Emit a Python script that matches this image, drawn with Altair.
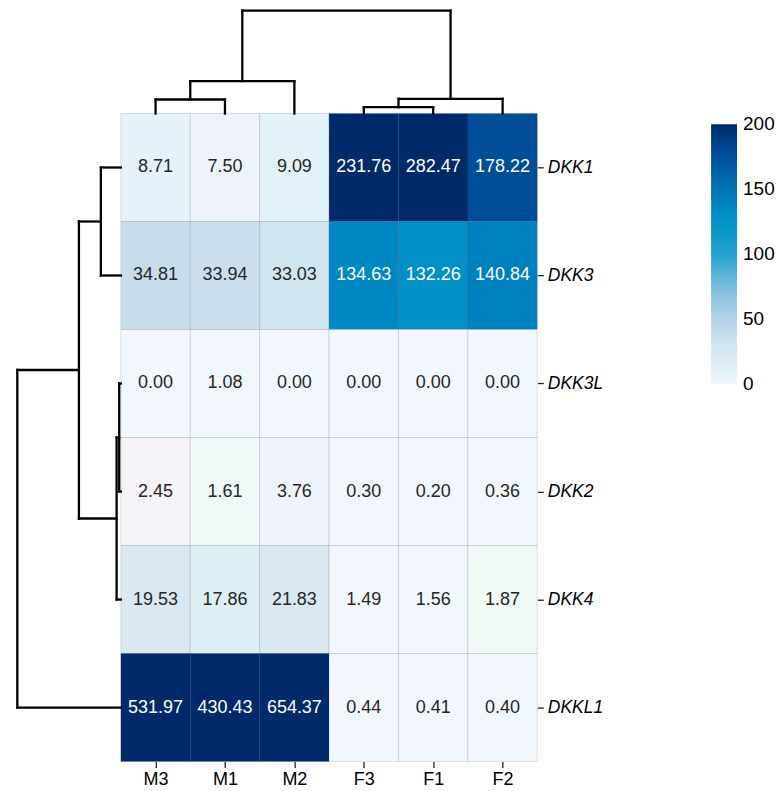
import altair as alt
import pandas as pd

# ---- data ----
cols = ["M3", "M1", "M2", "F3", "F1", "F2"]
rows = ["DKK1", "DKK3", "DKK3L", "DKK2", "DKK4", "DKKL1"]
values = [
    [8.71, 7.50, 9.09, 231.76, 282.47, 178.22],
    [34.81, 33.94, 33.03, 134.63, 132.26, 140.84],
    [0.00, 1.08, 0.00, 0.00, 0.00, 0.00],
    [2.45, 1.61, 3.76, 0.30, 0.20, 0.36],
    [19.53, 17.86, 21.83, 1.49, 1.56, 1.87],
    [531.97, 430.43, 654.37, 0.44, 0.41, 0.40],
]

# dendrogram linkages (relative merge heights, root = 1)
col_links = [("M3", "M1", 0.136), ("#0", "M2", 0.314), ("F3", "F1", 0.061),
             ("#2", "F2", 0.143), ("#1", "#3", 1.0)]
row_links = [("DKK1", "DKK3", 0.193), ("DKK3L", "DKK2", 0.016), ("#1", "DKK4", 0.041),
             ("#0", "#2", 0.405), ("#3", "DKKL1", 1.0)]

# colour map stops
c_domain = [0, 1.58, 1.61, 1.87, 2.45, 3.76, 7.5, 8.71, 9.09, 17.86, 19.53, 21.83,
            33.03, 33.94, 34.81, 50, 75, 100, 125, 132.26, 134.63, 140.84, 150, 178.22, 200]
c_range = ["#f1f7fd", "#f1f7fd", "#f0f9f8", "#f1f9f7", "#f5f2f8", "#eff3fb", "#edf2fb",
           "#e5f2f9", "#e3f1f8", "#dbeff5", "#d9e8f2", "#dae8f2", "#cfe5ef", "#cadeed",
           "#c8ddec", "#b5d3e9", "#7dbcdc", "#25a1cf", "#0092c6", "#008fc7", "#0088c5",
           "#0081bf", "#0074b5", "#004d98", "#002a6a"]
# colour-bar tick positions (ends nudged inward so labels centre on them)
legend_ticks = [0.001, 50, 100, 150, 199.999]

# ---- layout constants ----
TOP_LEN = 0.9525   # dendrogram depth in row units
LEFT_LEN = 1.492   # dendrogram depth in column units
X_DOM = [-1.626, 6]
Y_DOM = [-0.972, 6]
FONT = "Liberation Sans"

cells = pd.DataFrame([
    {"xi": j, "xj": j + 1, "yi": i, "yj": i + 1, "xc": j + 0.5, "yc": i + 0.5,
     "value": values[i][j], "label": f"{values[i][j]:.2f}"}
    for i in range(len(rows)) for j in range(len(cols))
])


def dendro_segments(leaves, links):
    pos = {n: k + 0.5 for k, n in enumerate(leaves)}
    hgt = {n: 0.0 for n in leaves}
    segs = []
    for k, (a, b, h) in enumerate(links):
        pa, pb = pos[a], pos[b]
        segs.append((pa, hgt[a], pa, h))
        segs.append((pa, h, pb, h))
        segs.append((pb, hgt[b], pb, h))
        pos[f"#{k}"] = (pa + pb) / 2
        hgt[f"#{k}"] = h
    return segs


top = pd.DataFrame([
    {"x": p1, "x2": p2, "y": -h1 * TOP_LEN, "y2": -h2 * TOP_LEN}
    for (p1, h1, p2, h2) in dendro_segments(cols, col_links)
])
left = pd.DataFrame([
    {"x": -h1 * LEFT_LEN, "x2": -h2 * LEFT_LEN, "y": p1, "y2": p2}
    for (p1, h1, p2, h2) in dendro_segments(rows, row_links)
])

xs = alt.Scale(domain=X_DOM, nice=False, zero=False)
ys = alt.Scale(domain=Y_DOM, nice=False, zero=False, reverse=True)
centers = [k + 0.5 for k in range(6)]
col_js = "[" + ",".join(f"'{c}'" for c in cols) + "]"
row_js = "[" + ",".join(f"'{r}'" for r in rows) + "]"
xa = alt.Axis(values=centers, labelExpr=f"{col_js}[floor(datum.value)]", orient="bottom",
              domain=False, grid=False, tickSize=6, tickColor="#222", tickWidth=1.3,
              labelFont=FONT, labelFontSize=18, labelColor="#000", labelPadding=3, title=None)
ya = alt.Axis(values=centers, labelExpr=f"{row_js}[floor(datum.value)]", orient="right",
              domain=False, grid=False, tickSize=6, tickColor="#222", tickWidth=1.3,
              labelFont=FONT, labelFontSize=17.5, labelFontStyle="italic", labelColor="#000",
              labelPadding=4, title=None)

color = alt.Color(
    "value:Q",
    scale=alt.Scale(domain=c_domain, range=c_range, clamp=True, interpolate="rgb"),
    legend=alt.Legend(orient="none", legendX=704, legendY=116, title=None,
                      values=legend_ticks, labelExpr="'' + round(datum.value)",
                      gradientLength=260, gradientThickness=26,
                      gradientStrokeWidth=0, labelFont=FONT, labelFontSize=19,
                      labelColor="#000", labelOffset=6, labelLimit=200,
                      padding=0, direction="vertical"),
)

rects = alt.Chart(cells).mark_rect(stroke="#000", strokeOpacity=0.12, strokeWidth=1).encode(
    x=alt.X("xi:Q", scale=xs, axis=xa), x2="xj:Q",
    y=alt.Y("yi:Q", scale=ys, axis=ya), y2="yj:Q",
    color=color,
)
texts = alt.Chart(cells).mark_text(font=FONT, fontSize=18, align="center", baseline="middle").encode(
    x=alt.X("xc:Q", scale=xs, axis=xa),
    y=alt.Y("yc:Q", scale=ys, axis=ya),
    text="label:N",
    color=alt.condition(alt.datum.value > 100, alt.value("white"), alt.value("#262626")),
)
top_d = alt.Chart(top).mark_rule(color="black", strokeWidth=2.3, strokeCap="square").encode(
    x=alt.X("x:Q", scale=xs, axis=xa), x2="x2:Q",
    y=alt.Y("y:Q", scale=ys, axis=ya), y2="y2:Q",
)
left_d = alt.Chart(left).mark_rule(color="black", strokeWidth=2.3, strokeCap="square").encode(
    x=alt.X("x:Q", scale=xs, axis=xa), x2="x2:Q",
    y=alt.Y("y:Q", scale=ys, axis=ya), y2="y2:Q",
)

chart = alt.layer(rects, texts, top_d, left_d).properties(
    width=530, height=754, padding=0
).configure_view(stroke=None).configure_legend(labelFontSize=19, labelFont=FONT)

chart.save("out.html", embed_options={"renderer": "svg", "actions": False})
